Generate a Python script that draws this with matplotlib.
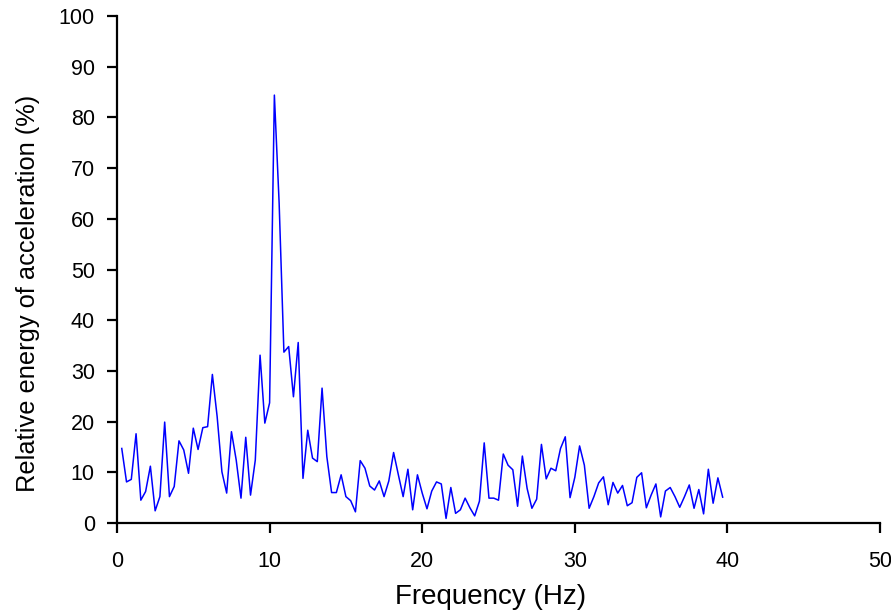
import numpy as np
import matplotlib
matplotlib.use("Agg")
import matplotlib.pyplot as plt

plt.rcParams['font.family'] = ['Liberation Sans', 'DejaVu Sans']

# Frequency resolution of the spectrum (Hz per bin)
df = 0.3125

# Relative energy of acceleration per frequency bin (%)
energy = [
    14.7, 8.1, 8.6, 17.6, 4.5, 6.2, 11.2, 2.4, 5.2, 19.9,
    5.2, 7.2, 16.2, 14.4, 9.8, 18.7, 14.5, 18.8, 19.0, 29.3,
    21.0, 10.1, 5.9, 18.0, 12.4, 4.9, 16.9, 5.5, 12.4, 33.1,
    19.7, 23.7, 84.4, 63.1, 33.7, 34.8, 24.9, 35.6, 8.8, 18.3,
    12.8, 12.1, 26.6, 13.1, 6.0, 6.0, 9.5, 5.2, 4.4, 2.2,
    12.3, 10.8, 7.3, 6.5, 8.3, 5.2, 8.3, 13.9, 9.5, 5.2,
    10.6, 2.6, 9.5, 5.9, 2.8, 6.3, 8.1, 7.7, 0.9, 7.0,
    1.9, 2.6, 4.9, 3.0, 1.4, 4.3, 15.8, 4.9, 4.9, 4.5,
    13.6, 11.4, 10.5, 3.3, 13.2, 6.8, 2.9, 4.7, 15.5, 8.7,
    10.8, 10.3, 14.7, 17.0, 5.0, 9.0, 15.2, 11.4, 2.9, 5.2,
    7.9, 9.1, 3.6, 8.0, 5.9, 7.4, 3.4, 4.0, 9.0, 9.9,
    3.0, 5.5, 7.7, 1.2, 6.3, 7.0, 5.2, 3.1, 5.2, 7.5,
    2.9, 6.6, 1.8, 10.6, 3.9, 8.9, 5.1,
]
freq = df * np.arange(1, len(energy) + 1)

x_ticks = [0, 10, 20, 30, 40, 50]
y_ticks = [0, 10, 20, 30, 40, 50, 60, 70, 80, 90, 100]

fig = plt.figure(figsize=(8.91, 6.16), dpi=100)
ax = fig.add_axes([0.1313, 0.151, 0.8564, 0.823])

ax.plot(freq, energy, color='#0000ff', linewidth=1.1)

ax.set_xlim(0, 50)
ax.set_ylim(0, 100)
ax.set_xticks(x_ticks)
ax.set_yticks(y_ticks)

for side in ('top', 'right'):
    ax.spines[side].set_visible(False)
for side in ('left', 'bottom'):
    ax.spines[side].set_linewidth(1.6)
    ax.spines[side].set_color('black')

ax.tick_params(axis='both', direction='out', length=7, width=1.6,
               labelsize=15.5, colors='black')
ax.tick_params(axis='x', pad=13)
ax.tick_params(axis='y', pad=9)

ax.set_xlabel('Frequency (Hz)', fontsize=20, va='center')
ax.set_ylabel('Relative energy of acceleration (%)', fontsize=18.3, va='center')
ax.xaxis.set_label_coords(0.490, -0.146)
ax.yaxis.set_label_coords(-0.116, 0.452)

fig.savefig('out.png', dpi=100)
